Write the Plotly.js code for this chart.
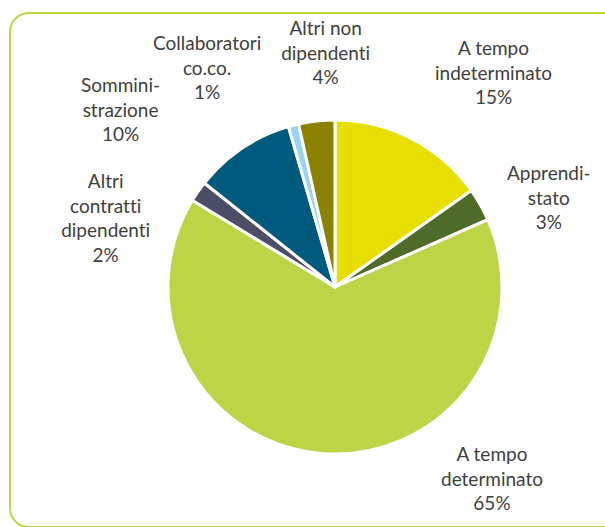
<!DOCTYPE html>
<html>
<head>
<meta charset="utf-8">
<script src="https://cdn.plot.ly/plotly-3.0.1.min.js"></script>
<style>
html,body{margin:0;padding:0;background:#fff;overflow:hidden;}
#wrap{position:relative;width:605px;height:527px;}
#chart{position:absolute;left:0;top:0;width:605px;height:527px;}
#chart text{font-variant-ligatures:none;font-feature-settings:"liga" 0;}
#frame{position:absolute;left:9px;top:12px;width:610px;height:512px;border:2px solid #BFD641;border-radius:20px;pointer-events:none;}
</style>
</head>
<body>
<div id="wrap"><div id="chart"></div><div id="frame"></div></div>
<script>
var categories = ["A tempo indeterminato","Apprendistato","A tempo determinato","Altri contratti dipendenti","Somministrazione","Collaboratori co.co.","Altri non dipendenti"];
var labelLines = ["A tempo<br>indeterminato","Apprendi-<br>stato","A tempo<br>determinato","Altri<br>contratti<br>dipendenti","Sommini-<br>strazione","Collaboratori<br>co.co.","Altri non<br>dipendenti"];
var values = [15.2, 3.2, 65.3, 2.0, 9.8, 1.0, 3.5];
var shownPct = ["15%","3%","65%","2%","10%","1%","4%"];
var colors = ["#E6DF00","#4F6B2A","#BED447","#4B4E66","#005A7E","#9BD3F0","#8A8200"];

// label centres in pixels (layout only)
var labelPos = [[493,72],[549,197],[492,478],[105,217],[120,109],[207,67],[325,52]];

var W = 605, H = 527;
var cx = 335, cy = 287, r = 167;

var annotations = labelLines.map(function(t,i){
  return {
    text: t + "<br>" + shownPct[i],
    xref:"paper", yref:"paper",
    x: labelPos[i][0]/W, y: 1 - labelPos[i][1]/H,
    xanchor:"center", yanchor:"middle",
    showarrow:false, align:"center",
    font:{family:"Lato, 'Open Sans', sans-serif", size:19, color:"#404040"}
  };
});

var data = [{
  type:"pie",
  labels: categories,
  values: values,
  sort:false,
  direction:"clockwise",
  rotation:0,
  textinfo:"none",
  hoverinfo:"label+percent",
  marker:{colors:colors, line:{color:"#ffffff", width:3}},
  domain:{x:[(cx-r)/W,(cx+r)/W], y:[1-(cy+r)/H, 1-(cy-r)/H]},
  showlegend:false
}];

var layout = {
  width:W, height:H,
  margin:{l:0,r:0,t:0,b:0},
  paper_bgcolor:"#ffffff",
  showlegend:false,
  annotations: annotations
};

Plotly.newPlot("chart", data, layout, {displayModeBar:false, staticPlot:true});
</script>
</body>
</html>
